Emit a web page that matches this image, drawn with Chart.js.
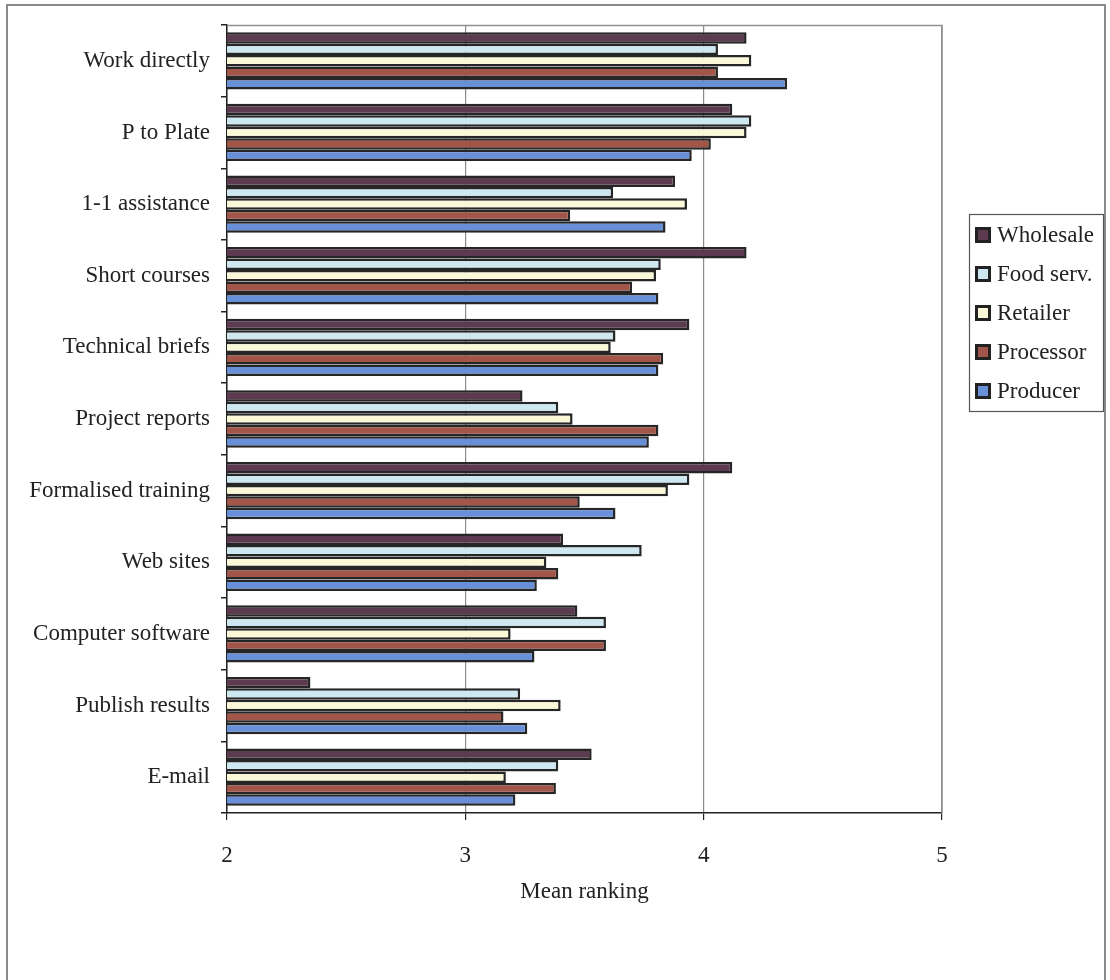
<!DOCTYPE html>
<html>
<head>
<meta charset="utf-8">
<title>Mean ranking by sector</title>
<script src="https://cdn.jsdelivr.net/npm/chart.js@4/dist/chart.umd.min.js"></script>
<style>
  html, body { margin: 0; padding: 0; background: #ffffff; }
  #wrap { width: 1110px; height: 980px; position: relative; }
  canvas { display: block; }
</style>
</head>
<body>
<div id="wrap"><canvas id="chart" width="1110" height="980"></canvas></div>
<script>
// Information sources, listed top to bottom
const categories = [
  'Work directly', 'P to Plate', '1-1 assistance', 'Short courses',
  'Technical briefs', 'Project reports', 'Formalised training', 'Web sites',
  'Computer software', 'Publish results', 'E-mail'
];

// Mean ranking per sector
const wholesale = [4.18, 4.12, 3.88, 4.18, 3.94, 3.24, 4.12, 3.41, 3.47, 2.35, 3.53];
const foodServ  = [4.06, 4.20, 3.62, 3.82, 3.63, 3.39, 3.94, 3.74, 3.59, 3.23, 3.39];
const retailer  = [4.20, 4.18, 3.93, 3.80, 3.61, 3.45, 3.85, 3.34, 3.19, 3.40, 3.17];
const processor = [4.06, 4.03, 3.44, 3.70, 3.83, 3.81, 3.48, 3.39, 3.59, 3.16, 3.38];
const producer  = [4.35, 3.95, 3.84, 3.81, 3.81, 3.77, 3.63, 3.30, 3.29, 3.26, 3.21];

const seriesNames = ['Wholesale', 'Food serv.', 'Retailer', 'Processor', 'Producer'];
const seriesColors = ['#5c3b50', '#cde8f1', '#fbf8d8', '#a25649', '#6890d8'];
const xTicks = [2, 3, 4, 5];

const FONT = "'Liberation Serif', 'Times New Roman', serif";
const INK = '#222222';

// Frame around the whole figure and the top/right edges of the plot area
const framePlugin = {
  id: 'frame',
  beforeDraw(chart) {
    const ctx = chart.ctx;
    ctx.save();
    ctx.fillStyle = '#ffffff';
    ctx.fillRect(0, 0, chart.width, chart.height);
    ctx.strokeStyle = '#8a8a8a';
    ctx.lineWidth = 2;
    ctx.strokeRect(7, 5, 1098, 1000);
    ctx.restore();
  },
  afterDatasetsDraw(chart) {
    const a = chart.chartArea, ctx = chart.ctx;
    ctx.save();
    ctx.strokeStyle = '#8f8f8f';
    ctx.lineWidth = 1.5;
    ctx.beginPath();
    ctx.moveTo(a.left, a.top + 0.5);
    ctx.lineTo(a.right, a.top + 0.5);
    ctx.lineTo(a.right, a.bottom);
    ctx.stroke();
    ctx.restore();
  }
};

// Boxed legend on the right
const boxLegend = {
  id: 'boxLegend',
  afterDraw(chart) {
    const ctx = chart.ctx;
    const x0 = 969, y0 = 214, w = 134, h = 197;
    const rowH = 39;
    ctx.save();
    ctx.fillStyle = '#ffffff';
    ctx.fillRect(x0, y0, w, h);
    ctx.strokeStyle = '#555555';
    ctx.lineWidth = 1.2;
    ctx.strokeRect(x0 + 0.5, y0 + 0.5, w, h);
    ctx.font = '23px ' + FONT;
    ctx.textBaseline = 'middle';
    ctx.textAlign = 'left';
    chart.data.datasets.forEach((ds, i) => {
      const cy = y0 + 21 + i * rowH;
      ctx.fillStyle = INK;
      ctx.fillRect(975, cy - 8, 16, 16);
      ctx.fillStyle = ds.backgroundColor;
      ctx.fillRect(978, cy - 5, 10, 10);
      ctx.fillStyle = INK;
      ctx.fillText(ds.label, 997, cy + 1);
    });
    ctx.restore();
  }
};

const seriesValues = [wholesale, foodServ, retailer, processor, producer];

new Chart(document.getElementById('chart'), {
  type: 'bar',
  data: {
    labels: categories,
    datasets: seriesNames.map((name, i) => ({
      label: name,
      data: seriesValues[i],
      backgroundColor: seriesColors[i],
      borderColor: '#262626',
      borderWidth: 2.5,
      borderSkipped: false,
      categoryPercentage: 0.8,
      barPercentage: 1.0
    }))
  },
  options: {
    indexAxis: 'y',
    responsive: false,
    animation: false,
    devicePixelRatio: 1,
    layout: { padding: { left: 0, top: 25, right: 168, bottom: 74 } },
    plugins: {
      legend: { display: false },
      tooltip: { enabled: false }
    },
    scales: {
      y: {
        type: 'category',
        offset: true,
        grid: {
          offset: true,
          drawOnChartArea: false,
          drawTicks: true,
          tickLength: 6,
          tickColor: INK,
          lineWidth: 1.5
        },
        border: { display: true, color: INK, width: 1.5 },
        ticks: {
          font: { family: FONT, size: 23 },
          color: INK,
          padding: 11,
          autoSkip: false
        },
        afterFit(scale) { scale.width = 227; }
      },
      x: {
        type: 'linear',
        min: 2,
        max: 5,
        afterBuildTicks(scale) { scale.ticks = xTicks.map(v => ({ value: v })); },
        grid: {
          color: '#8a8a8a',
          lineWidth: 1.2,
          drawTicks: true,
          tickLength: 7,
          tickColor: INK
        },
        border: { display: true, color: INK, width: 1.5 },
        ticks: {
          font: { family: FONT, size: 23 },
          color: INK,
          padding: 22
        },
        title: {
          display: true,
          text: 'Mean ranking',
          font: { family: FONT, size: 23 },
          color: INK,
          padding: { top: 10, bottom: 0 }
        },
        afterFit(scale) { scale.height = 93; }
      }
    }
  },
  plugins: [framePlugin, boxLegend]
});
</script>
</body>
</html>
